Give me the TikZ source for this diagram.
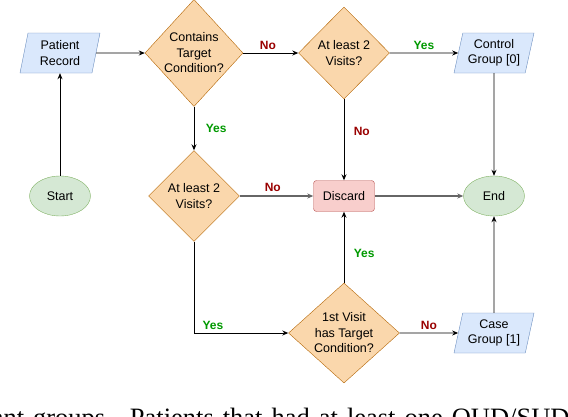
\documentclass[tikz,border=0pt]{standalone}
\usepackage{fontspec}
\setmainfont{Liberation Sans}
\newfontfamily\captionserif{Liberation Serif}
\usetikzlibrary{shapes.geometric,arrows.meta,positioning}

% Couleurs
\definecolor{orangefill}{HTML}{FAD7AC}
\definecolor{orangeline}{HTML}{B46504}
\definecolor{bluefill}{HTML}{DAE8FC}
\definecolor{blueline}{HTML}{6C8EBF}
\definecolor{greenfill}{HTML}{D5E8D4}
\definecolor{greenline}{HTML}{82B366}
\definecolor{redfill}{HTML}{F8CECC}
\definecolor{redline}{HTML}{B85450}
\definecolor{nored}{HTML}{990000}
\definecolor{yesgreen}{HTML}{009900}

\tikzset{
  decision/.style={diamond, draw=orangeline, fill=orangefill, inner sep=0pt},
  dtext/.style={align=center, inner sep=0pt},
  iobox/.style={trapezium, trapezium left angle=72, trapezium right angle=108,
    trapezium stretches body, draw=blueline, fill=bluefill,
    minimum width=80pt, minimum height=40pt, inner sep=0pt, align=center},
  terminal/.style={ellipse, draw=greenline, fill=greenfill,
    minimum width=61pt, minimum height=40pt, inner sep=0pt},
  discardbox/.style={rectangle, rounded corners=3pt, draw=redline, fill=redfill,
    minimum width=61pt, minimum height=31pt},
  arr/.style={-{Stealth[length=6pt,width=5pt]}, line width=0.9pt},
  grayarr/.style={arr, draw=black!60, line width=1.2pt},
  lblno/.style={text=nored, font=\fontsize{12}{15}\selectfont\bfseries},
  lblyes/.style={text=yesgreen, font=\fontsize{12}{15}\selectfont\bfseries},
}

\begin{document}
\begin{tikzpicture}[x=1pt, y=-1pt, font=\fontsize{12.5}{15.5}\selectfont]
  \useasboundingbox (0,0) rectangle (568,416);
  \clip (0,0) rectangle (568,416);

  % Noeuds
  \node[iobox] (patient) at (60,53) {Patient\\Record};
  \node[decision, minimum width=98pt, minimum height=107pt,
    label={[dtext]center:Contains\\Target\\Condition?}] (cond) at (194,53) {};
  \node[decision, minimum width=91pt, minimum height=92pt,
    label={[dtext]center:At least 2\\Visits?}] (visitA) at (344,53) {};
  \node[iobox] (control) at (494,53) {Control\\Group [0]};

  \node[terminal] (start) at (60,196) {Start};
  \node[decision, minimum width=91pt, minimum height=91pt,
    label={[dtext]center:At least 2\\Visits?}] (visitB) at (194,196) {};
  \node[discardbox] (discard) at (344,196) {Discard};
  \node[terminal] (end) at (494,196) {End};

  \node[decision, minimum width=111pt, minimum height=100pt,
    label={[dtext]center:1st Visit\\has Target\\Condition?}] (first) at (344,333) {};
  \node[iobox] (case) at (494,333) {Case\\Group [1]};

  % Connecteurs
  \draw[arr] (start) -- (patient);
  \draw[arr] (patient) -- (cond);
  \draw[arr] (cond) -- node[lblno, above, pos=0.45] {No} (visitA);
  \draw[arr] (visitA) -- node[lblyes, above] {Yes} (control);
  \draw[arr] (control) -- (end);
  \draw[arr] (cond) -- node[lblyes, right=8pt] {Yes} (visitB);
  \draw[grayarr] (visitB) -- node[lblno, above, pos=0.45] {No} (discard);
  \draw[arr] (visitA) -- node[lblno, right=6pt, pos=0.4] {No} (discard);
  \draw[grayarr] (discard) -- (end);
  \draw[arr] (visitB.south) |- node[lblyes, above, pos=0.6] {Yes} (first.west);
  \draw[arr] (first) -- node[lblyes, right=6pt, pos=0.42] {Yes} (discard);
  \draw[arr] (first) -- node[lblno, above] {No} (case);
  \draw[arr] (case) -- (end);

  % Légende coupée
  \node[anchor=base west, inner sep=0pt,
    font=\captionserif\fontsize{26.5}{30}\selectfont] (caption) at (-8.4,426.5)
    {\spaceskip=9pt ant groups.\hspace{18pt}Patients that had at least one OUD/SUD};
\end{tikzpicture}
\end{document}
